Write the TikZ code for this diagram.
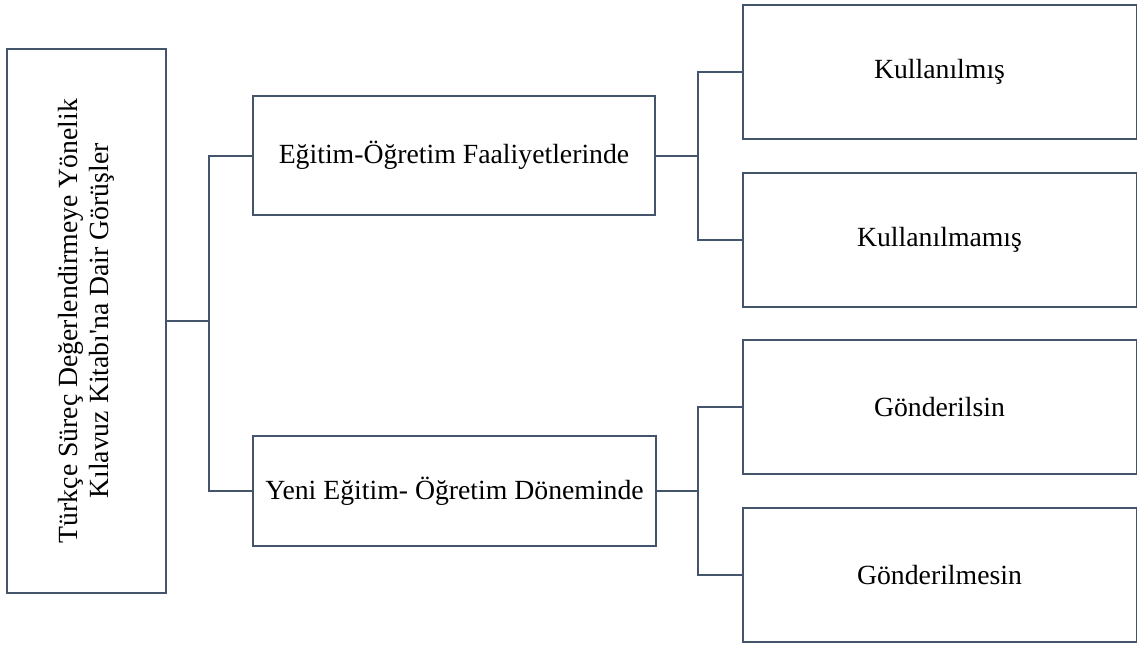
\documentclass[tikz,border=0pt]{standalone}
\usepackage{fontspec}
\setmainfont{Liberation Serif}

\definecolor{cizgi}{HTML}{44546A}
\def\px{0.75pt}
\def\yazi{\fontsize{20.8}{23}\selectfont}

\tikzset{
    kutu/.style={draw=cizgi, line width=1.5pt, fill=white, inner sep=0pt, align=center, font=\yazi},
    bag/.style={draw=cizgi, line width=1.5pt}
}

\begin{document}
\begin{tikzpicture}[x=\px,y=-\px]
    \useasboundingbox (0,0) rectangle (1137,646);

%ana kutu
    \node[kutu, rotate=90, minimum width=544*\px, minimum height=159*\px] (ana) at (86.5,321)
        {Türkçe Süreç Değerlendirmeye Yönelik\\Kılavuz Kitabı\textquotesingle na Dair Görüşler};

%orta kutular
    \node[kutu, minimum width=402*\px, minimum height=119*\px] (faaliyet) at (454,155.5) {Eğitim-Öğretim Faaliyetlerinde};
    \node[kutu, minimum width=403*\px, minimum height=110*\px] (donem) at (454.5,491) {Yeni Eğitim- Öğretim Döneminde};

%sağ kutular
    \foreach \y/\ad/\metin in {71.5/kul/Kullanılmış, 239.5/kulma/Kullanılmamış, 407/gon/Gönderilsin, 575/gonme/Gönderilmesin}
        \node[kutu, minimum width=394*\px, minimum height=134*\px] (\ad) at (939.5,\y) {\metin};

%bağlantılar
    \coordinate (ayrim1) at (209,321);
    \coordinate (ayrim2) at (698,155.5);
    \coordinate (ayrim3) at (698,491);

    \draw[bag] (ana.south) -- (ayrim1);
    \draw[bag] (faaliyet.west) -| (ayrim1) |- (donem.west);

    \draw[bag] (faaliyet.east) -- (ayrim2);
    \draw[bag] (kul.west) -| (ayrim2) |- (kulma.west);

    \draw[bag] (donem.east) -- (ayrim3);
    \draw[bag] (gon.west) -| (ayrim3) |- (gonme.west);

\end{tikzpicture}
\end{document}
